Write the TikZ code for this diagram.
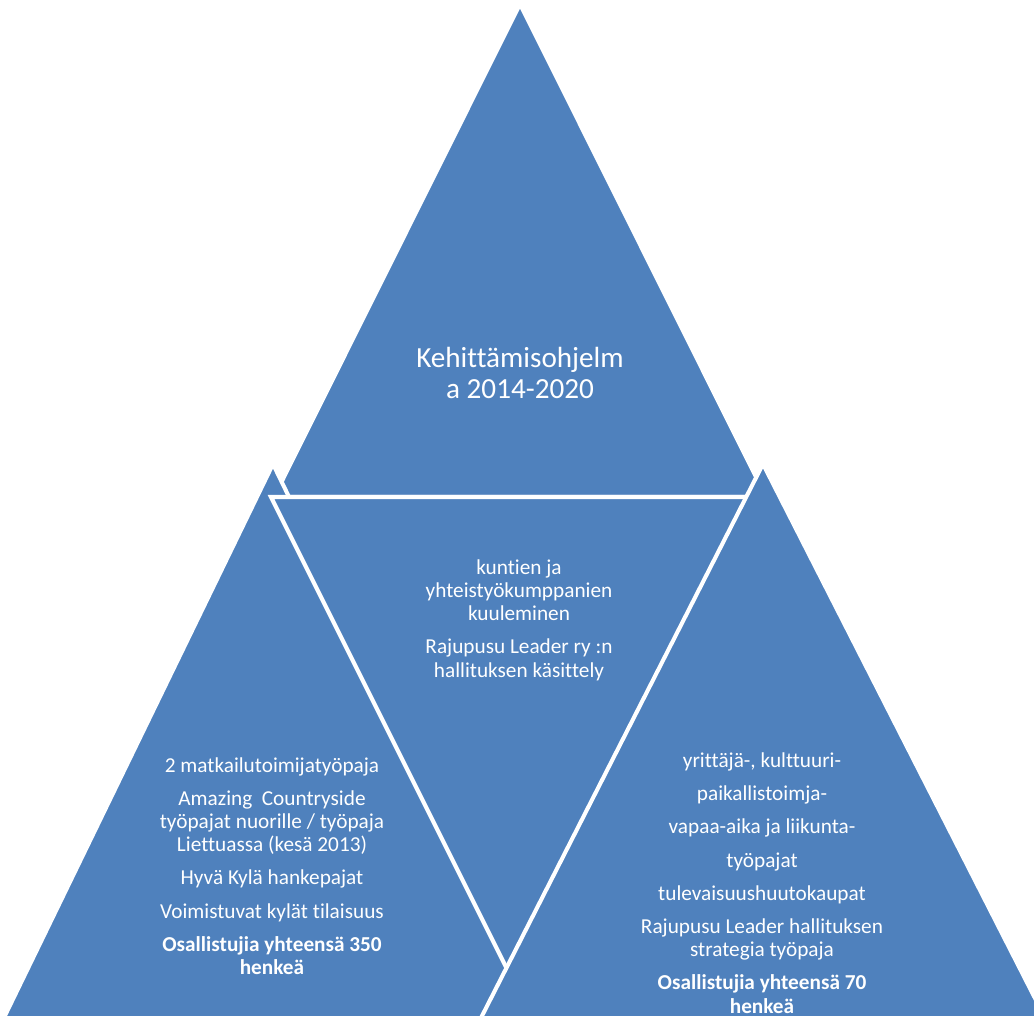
\documentclass[tikz,border=0pt]{standalone}
\usepackage{fontspec}
\setmainfont{Carlito}[Ligatures=NoCommon]
\definecolor{segblue}{RGB}{79,129,189}
\tikzstyle{segment} = [fill=segblue, 
draw=white, 
line width=2.3pt]
\tikzstyle{segtext} = [text=white, 
align=center, 
font=\fontsize{12.1}{13.2}\selectfont]
\tikzstyle{toptext} = [text=white, 
align=center, 
font=\fontsize{16.6}{18.1}\selectfont]

\begin{document}
\begin{tikzpicture}[x=0.02cm, y=-0.02cm]
\useasboundingbox (0,0) rectangle (1034,1015);
\clip (0,0) rectangle (1034,1015);

% corners of the four segments (y runs downwards)
\coordinate (topA) at (520,4);
\coordinate (topL) at (274,497);
\coordinate (topR) at (766,497);
\coordinate (leftA) at (273,464);
\coordinate (leftL) at (-19,1065);
\coordinate (leftR) at (565,1065);
\coordinate (midL) at (271,497);
\coordinate (midR) at (769,497);
\coordinate (midB) at (520,995);
\coordinate (rightA) at (763,464);
\coordinate (rightL) at (457,1065);
\coordinate (rightR) at (1069,1065);

\draw [segment] (topA) -- (topL) -- (topR) -- cycle;
\draw [segment] (leftA) -- (leftL) -- (leftR) -- cycle;
\draw [segment] (midL) -- (midR) -- (midB) -- cycle;
\draw [segment] (rightA) -- (rightL) -- (rightR) -- cycle;

\node (prog) [toptext] at (520,373) {Kehittämisohjelm\\a 2014-2020};
\node (consult) [segtext] at (519,620) {kuntien ja\\yhteistyökumppanien\\kuuleminen\\[5.7pt]
Rajupusu Leader ry :n\\hallituksen käsittely};
\node (youth) [segtext] at (272,866) {2 matkailutoimijatyöpaja\\[5.7pt]
Amazing~~Countryside\\työpajat nuorille / työpaja\\Liettuassa (kesä 2013)\\[5.7pt]
Hyvä Kylä hankepajat\\[5.7pt]
Voimistuvat kylät tilaisuus\\[5.7pt]
\textbf{Osallistujia yhteensä 350}\\\textbf{henkeä}};
\node (work) [segtext] at (762,883) {yrittäjä-, kulttuuri-\\[5.7pt]
paikallistoimja-\\[5.7pt]
vapaa-aika ja liikunta-\\[5.7pt]
työpajat\\[5.7pt]
tulevaisuushuutokaupat\\[5.7pt]
Rajupusu Leader hallituksen\\strategia työpaja\\[5.7pt]
\textbf{Osallistujia yhteensä 70}\\\textbf{henkeä}};

\end{tikzpicture}
\end{document}
